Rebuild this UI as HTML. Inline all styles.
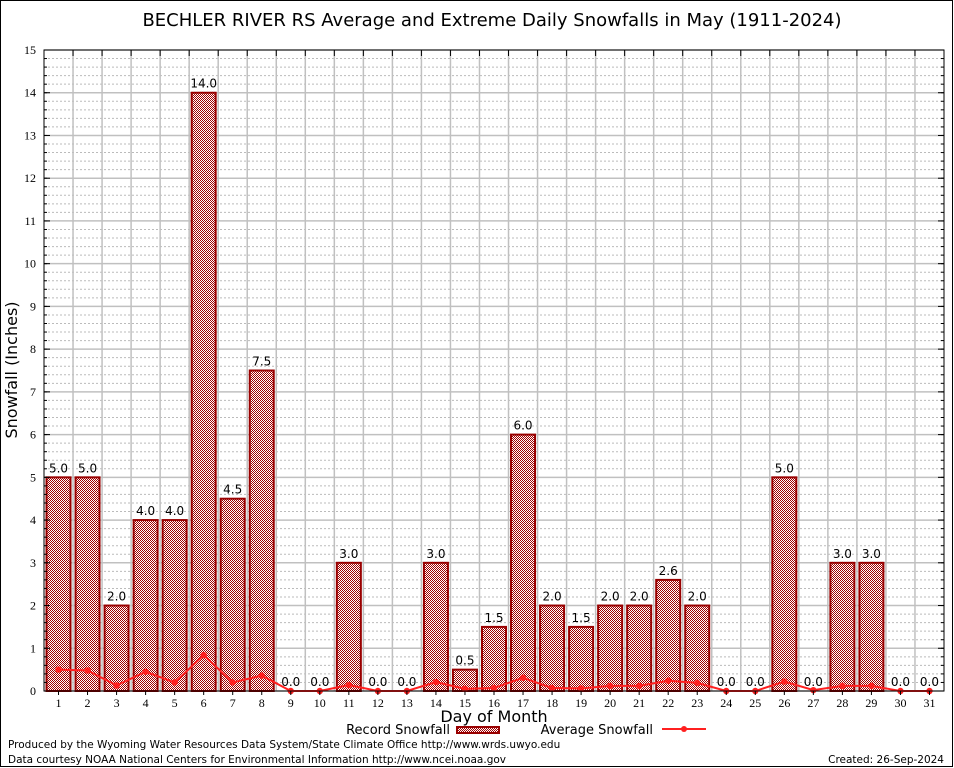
<!DOCTYPE html>
<html><head><meta charset="utf-8"><style>
html,body{margin:0;padding:0;background:#fff;}
svg{display:block;font-family:"DejaVu Sans","Liberation Sans",sans-serif;}
</style></head><body>
<svg id="chart" width="954" height="768" viewBox="0 0 954 768">
<defs>
<pattern id="check" width="2" height="2" patternUnits="userSpaceOnUse">
<rect width="2" height="2" fill="#fff"/><rect width="1" height="1" fill="#a00000"/><rect x="1" y="1" width="1" height="1" fill="#a00000"/>
</pattern>
</defs>
<rect x="0.5" y="0.5" width="952" height="766" fill="#fff" stroke="#000"/>
<text x="492" y="26" font-size="18" text-anchor="middle">BECHLER RIVER RS Average and Extreme Daily Snowfalls in May (1911-2024)</text>
<g id="grid"></g>
<g id="bars"></g>
<g id="line"></g>
<g id="axes"></g>
<text transform="translate(17,370) rotate(-90)" font-size="16" text-anchor="middle">Snowfall (Inches)</text>
<text x="494" y="722" font-size="16" text-anchor="middle">Day of Month</text>
<g>
<text x="450" y="734" font-size="13" text-anchor="end">Record Snowfall</text>
<rect x="457" y="727" width="42" height="6" fill="url(#check)" stroke="#990000" stroke-width="2"/>
</g>
<g>
<text x="653" y="734" font-size="13" text-anchor="end">Average Snowfall</text>
<line x1="662" y1="729" x2="706" y2="729" stroke="#ff2020" stroke-width="2"/>
<circle cx="684" cy="729" r="3" fill="#ff2020"/>
</g>
<text x="8" y="748" font-size="10.5">Produced by the Wyoming Water Resources Data System/State Climate Office http://www.wrds.uwyo.edu</text>
<text x="8" y="763" font-size="10.5">Data courtesy NOAA National Centers for Environmental Information http://www.ncei.noaa.gov</text>
<text x="944" y="763" font-size="10.5" text-anchor="end">Created: 26-Sep-2024</text>
</svg>
<script>
const days = [1,2,3,4,5,6,7,8,9,10,11,12,13,14,15,16,17,18,19,20,21,22,23,24,25,26,27,28,29,30,31];
const recordSnow = [5.0,5.0,2.0,4.0,4.0,14.0,4.5,7.5,0,0,3.0,0,0,3.0,0.5,1.5,6.0,2.0,1.5,2.0,2.0,2.6,2.0,0,0,5.0,0,3.0,3.0,0,0];
const avgSnow = [0.5,0.48,0.13,0.45,0.2,0.84,0.2,0.36,0,0,0.14,0,0,0.21,0.05,0.07,0.31,0.07,0.06,0.12,0.12,0.24,0.19,0,0,0.22,0.02,0.12,0.12,0,0];
const yTicks = [0,1,2,3,4,5,6,7,8,9,10,11,12,13,14,15];

const L=44,R=944,T=50,B=691;
const NS="http://www.w3.org/2000/svg";
const xs=d=>L+(d-0.5)*(R-L)/31;
const ys=v=>B-v*(B-T)/15;
function mk(tag,attrs,parent,text){const e=document.createElementNS(NS,tag);for(const k in attrs)e.setAttribute(k,attrs[k]);if(text!==undefined)e.textContent=text;parent.appendChild(e);return e;}
const grid=document.getElementById('grid'),bars=document.getElementById('bars'),line=document.getElementById('line'),axes=document.getElementById('axes');

for(let v=0;v<15;v+=0.2){
  if(Math.abs(v-Math.round(v))<1e-6)continue;
  const g=mk('line',{x1:L,x2:R,y1:ys(v),y2:ys(v),stroke:'#bbb','stroke-width':1,'stroke-dasharray':'2,2'},grid);
  
  
}
yTicks.forEach(v=>{
  const g=mk('line',{x1:L,x2:R,y1:ys(v),y2:ys(v),stroke:'#c0c0c0','stroke-width':1.5},grid);
  
  
  const t=mk('text',{x:L-8,y:ys(v)+4,'font-size':12,'text-anchor':'end','font-family':'Liberation Serif, serif'},axes,String(v));
  
  
  mk('line',{x1:L,x2:L+6,y1:ys(v),y2:ys(v),stroke:'#000'},axes);
  mk('line',{x1:R,x2:R-6,y1:ys(v),y2:ys(v),stroke:'#000'},axes);
});
for(let v=0;v<15;v+=0.2){mk('line',{x1:L,x2:L+3,y1:ys(v),y2:ys(v),stroke:'#000'},axes);mk('line',{x1:R,x2:R-3,y1:ys(v),y2:ys(v),stroke:'#000'},axes);}
for(let i=1;i<31;i++){
  const x=xs(i+0.5);
  const g=mk('line',{x1:x,x2:x,y1:T,y2:B,stroke:'#c0c0c0','stroke-width':1.5},grid);
  
  
  mk('line',{x1:x,x2:x,y1:T,y2:T+6,stroke:'#000'},axes);
}
const bw=24;
days.forEach((d,i)=>{
  const v=recordSnow[i],x=xs(d);
  if(v>0){
    const r=mk('rect',{x:x-bw/2,y:ys(v),width:bw,height:B-ys(v),fill:'url(#check)',stroke:'#990000','stroke-width':2},bars);
    
    
  }
  const t=mk('text',{x:x,y:ys(v)-5,'font-size':12,'text-anchor':'middle'},bars,v.toFixed(1));
  
  
  const xl=mk('text',{x:x,y:B+16,'font-size':12,'text-anchor':'middle','font-family':'Liberation Serif, serif'},axes,String(d));
  
  
  mk('line',{x1:x,x2:x,y1:B,y2:B+4,stroke:'#000'},axes);
});
const pts=days.map((d,i)=>xs(d)+','+ys(avgSnow[i])).join(' ');
const pl=mk('polyline',{points:pts,fill:'none',stroke:'#ff2020','stroke-width':2},line);


days.forEach((d,i)=>{
  const c=mk('circle',{cx:xs(d),cy:ys(avgSnow[i]),r:3.2,fill:'#ff2020'},line);
  
  
});
const fr=mk('rect',{x:L,y:T,width:R-L,height:B-T,fill:'none',stroke:'#000','stroke-width':1},axes);


</script>
</body></html>
